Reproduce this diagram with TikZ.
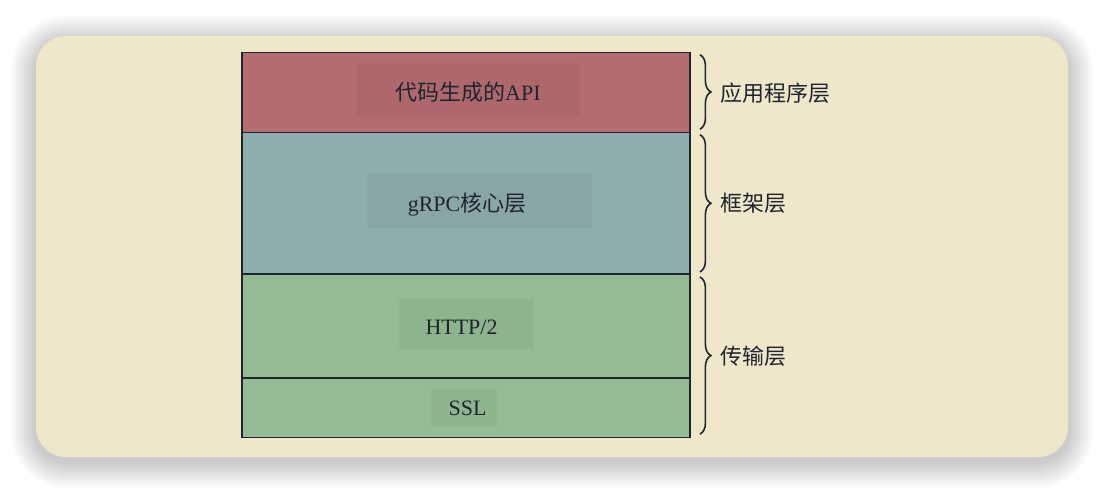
\documentclass[tikz,border=0pt]{standalone}
\usepackage{fontspec}
\setmainfont{Liberation Serif}
\newfontfamily\cjk{Noto Sans CJK SC}
\usetikzlibrary{positioning, calc, decorations.pathreplacing}
\definecolor{bgcream}{HTML}{EFE7C9}
\definecolor{appred}{HTML}{B56C6F}
\definecolor{coreteal}{HTML}{8EADAD}
\definecolor{netgreen}{HTML}{94BB93}
\definecolor{linec}{HTML}{1F2433}
\definecolor{textc}{HTML}{1F2430}
\tikzset{
  layer/.style={draw=linec, line width=0.85pt, minimum width=8.96cm, inner sep=0pt, outer sep=0pt, anchor=north west},
  tagbox/.style={fill=black, fill opacity=0.035, inner sep=0pt, outer sep=0pt},
  tagtext/.style={text=textc, inner sep=0pt, font=\fontsize{12.5}{15}\selectfont},
  layerbrace/.style={decorate, decoration={brace, amplitude=0.22cm}, draw=linec, line width=0.9pt},
}
\begin{document}
\begin{tikzpicture}[x=0.02cm, y=-0.02cm]
    \useasboundingbox (0,0) rectangle (1104,494);
    % soft shadow and card
    \foreach \i in {1,...,26}
        \fill[black, opacity=0.0065, rounded corners={0.6cm+\i*0.02cm}] (36-\i,41-\i) rectangle (1068+\i,462+\i);
    \fill[bgcream, rounded corners=0.6cm] (36,36) rectangle (1068,457);
    % stacked layers
    \node[layer, fill=appred, minimum height=1.6cm] (api) at (242,52.7) {};
    \node[layer, fill=coreteal, minimum height=2.826cm, below=0pt of api] (core) {};
    \node[layer, fill=netgreen, minimum height=2.08cm, below=0pt of core] (http) {};
    \node[layer, fill=netgreen, minimum height=1.194cm, below=0pt of http] (ssl) {};
    % label boxes
    \node[tagbox, minimum width=4.46cm, minimum height=1.08cm] (apibox) at (468.3,90) {};
    \node[tagbox, minimum width=4.5cm, minimum height=1.1cm] (corebox) at (479.2,200.5) {};
    \node[tagbox, minimum width=2.7cm, minimum height=1.0cm] (httpbox) at (466.5,324) {};
    \node[tagbox, minimum width=1.32cm, minimum height=0.74cm] (sslbox) at (464,407.5) {};
    \node[tagtext] (apitxt) at (468,91.7) {{\cjk 代码生成的}API};
    \node[tagtext] (coretxt) at (467,205) {gRPC{\cjk 核心层}};
    \node[tagtext] (httptxt) at (461.5,327) {HTTP/2};
    \node[tagtext] (ssltxt) at (467.5,408) {SSL};
    % braces on the right
    \draw[layerbrace] ([shift={(0.2cm,-0.04cm)}]api.north east) -- ([shift={(0.2cm,0.07cm)}]api.south east);
    \draw[layerbrace] ([shift={(0.2cm,-0.04cm)}]core.north east) -- ([shift={(0.2cm,0.04cm)}]core.south east);
    \draw[layerbrace] ([shift={(0.2cm,-0.06cm)}]http.north east) -- ([shift={(0.2cm,0.07cm)}]ssl.south east);
    % layer names
    \coordinate (netmid) at ($(http.north east)!0.5!(ssl.south east)$);
    \node[tagtext, anchor=west, right=0.6cm of api.east] (applbl) {\cjk 应用程序层};
    \node[tagtext, anchor=west, right=0.6cm of core.east] (framelbl) {\cjk 框架层};
    \node[tagtext, anchor=west, right=0.6cm of netmid] (netlbl) {\cjk 传输层};
\end{tikzpicture}
\end{document}
